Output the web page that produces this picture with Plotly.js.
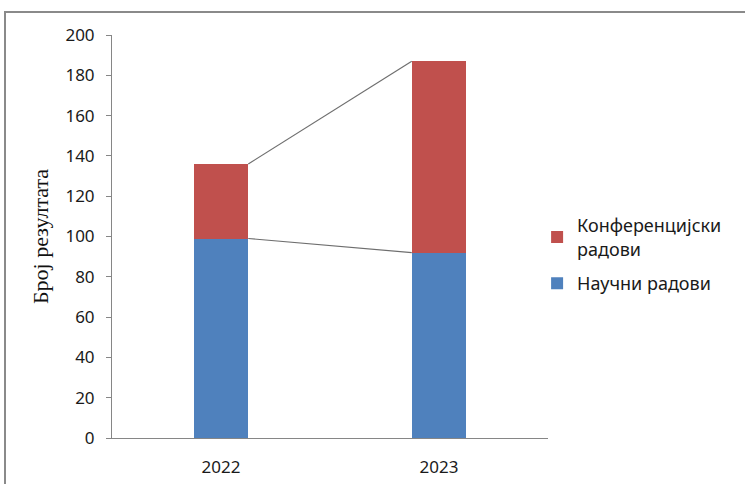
<!DOCTYPE html>
<html>
<head>
<meta charset="utf-8">
<script src="https://cdn.plot.ly/plotly-3.0.1.min.js"></script>
<style>
html,body{margin:0;padding:0;background:#fff;}
#wrap{position:relative;width:745px;height:484px;overflow:hidden;}
#chart{position:absolute;left:0;top:0;width:745px;height:484px;}
#frame{position:absolute;left:4px;top:11px;width:760px;height:500px;border:2px solid #8a8a8a;pointer-events:none;box-sizing:border-box;}
</style>
</head>
<body>
<div id="wrap"><div id="chart"></div><div id="frame"></div></div>
<script>
const years = ['2022', '2023'];
const nauchni = [99, 92];
const konf = [37, 95];
const seriesNames = ['Научни радови', 'Конференцијски<br>радови'];
const yTitle = 'Број резултата';

const barWidth = 0.25;
const xs = years.map((_, i) => i);
const cumN = nauchni.slice();
const cumK = nauchni.map((v, i) => v + konf[i]);

const lineX = [xs[0] + barWidth / 2, xs[1] - barWidth / 2];

const traces = [
  {type: 'bar', x: xs, y: nauchni, name: seriesNames[0], width: barWidth, legendgroup: 'a', legendrank: 2,
   marker: {color: '#4F81BD', line: {width: 0}}},
  {type: 'bar', x: xs, y: konf, name: seriesNames[1], width: barWidth, legendgroup: 'b', legendrank: 1,
   marker: {color: '#C0504D', line: {width: 0}}},
  {type: 'scatter', mode: 'lines', x: lineX, y: cumN, showlegend: false,
   hoverinfo: 'skip', line: {color: '#6e6e6e', width: 1.2}},
  {type: 'scatter', mode: 'lines', x: lineX, y: cumK, showlegend: false,
   hoverinfo: 'skip', line: {color: '#6e6e6e', width: 1.2}}
];

const layout = {
  width: 745, height: 484,
  margin: {l: 112, r: 197, t: 35, b: 46},
  paper_bgcolor: '#fff', plot_bgcolor: '#fff',
  barmode: 'stack',
  font: {family: 'Noto Sans, sans-serif', size: 17, color: '#1a1a1a'},
  xaxis: {
    range: [-0.5, 1.5], tickmode: 'array', tickvals: xs, ticktext: years,
    showgrid: false, zeroline: false, showline: true, linecolor: '#868686', linewidth: 1,
    ticks: '', tickfont: {size: 17}, ticklabelstandoff: 14, fixedrange: true
  },
  yaxis: {
    range: [0, 200], dtick: 20, tick0: 0, showgrid: false, zeroline: false,
    showline: true, linecolor: '#868686', linewidth: 1,
    ticks: 'outside', ticklen: 5, tickcolor: '#868686', tickfont: {size: 17},
    ticklabelstandoff: 8,
    title: {text: yTitle, font: {family: 'Liberation Serif, serif', size: 22, color: '#111'}, standoff: 10}
  },
  legend: {
    x: 0.975, xanchor: 'left', y: 0.455, yanchor: 'middle',
    traceorder: 'grouped', tracegroupgap: 8, font: {size: 18, color: '#1a1a1a'},
    bgcolor: 'rgba(0,0,0,0)', itemwidth: 30
  },
  showlegend: true
};

Plotly.newPlot('chart', traces, layout, {displayModeBar: false, staticPlot: true});
</script>
</body>
</html>
